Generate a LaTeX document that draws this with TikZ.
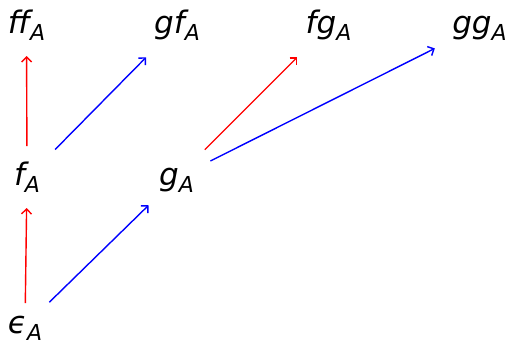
\documentclass[tikz,border=0pt]{standalone}
\usepackage{fontspec}
\setmainfont{DejaVu Sans}
\usetikzlibrary{arrows.meta}
\newcommand{\lbl}[2]{{\fontsize{31}{31}\selectfont\itshape #1\raisebox{-7pt}{\fontsize{22}{22}\selectfont #2}}}
\tikzset{
  lab/.style={inner sep=0pt, text height=21pt, text depth=7pt, anchor=center},
  arr/.style={line width=1.4pt, -{Straight Barb[length=5pt,width=10pt]}},
  redarr/.style={arr, draw=red},
  bluearr/.style={arr, draw=blue}
}
\begin{document}
\begin{tikzpicture}[x=1pt,y=-1pt]
\useasboundingbox (0,0) rectangle (511,341);
\node[lab] (ffA) at (26.5,26) {\lbl{ff}{A}};
\node[lab] (gfA) at (177,26) {\lbl{gf}{A}};
\node[lab] (fgA) at (328.5,26) {\lbl{fg}{A}};
\node[lab] (ggA) at (479.5,26) {\lbl{gg}{A}};
\node[lab] (fA) at (27,178) {\lbl{f}{A}};
\node[lab] (gA) at (176.5,178) {\lbl{g}{A}};
\node[lab] (eA) at (25,326) {\lbl{ϵ}{A}};
\draw[redarr, shorten <=32pt, shorten >=30pt] (fA.center) -- (ffA.center);
\draw[bluearr, shorten <=40pt, shorten >=44pt] (fA.center) -- (gfA.center);
\draw[redarr, shorten <=40pt, shorten >=44pt] (gA.center) -- (fgA.center);
\draw[bluearr, shorten <=38pt, shorten >=50pt] (gA.center) -- (ggA.center);
\draw[redarr, shorten <=23pt, shorten >=30pt] (eA.center) -- (fA.center);
\draw[bluearr, shorten <=34pt, shorten >=39pt] (eA.center) -- (gA.center);
\end{tikzpicture}
\end{document}
